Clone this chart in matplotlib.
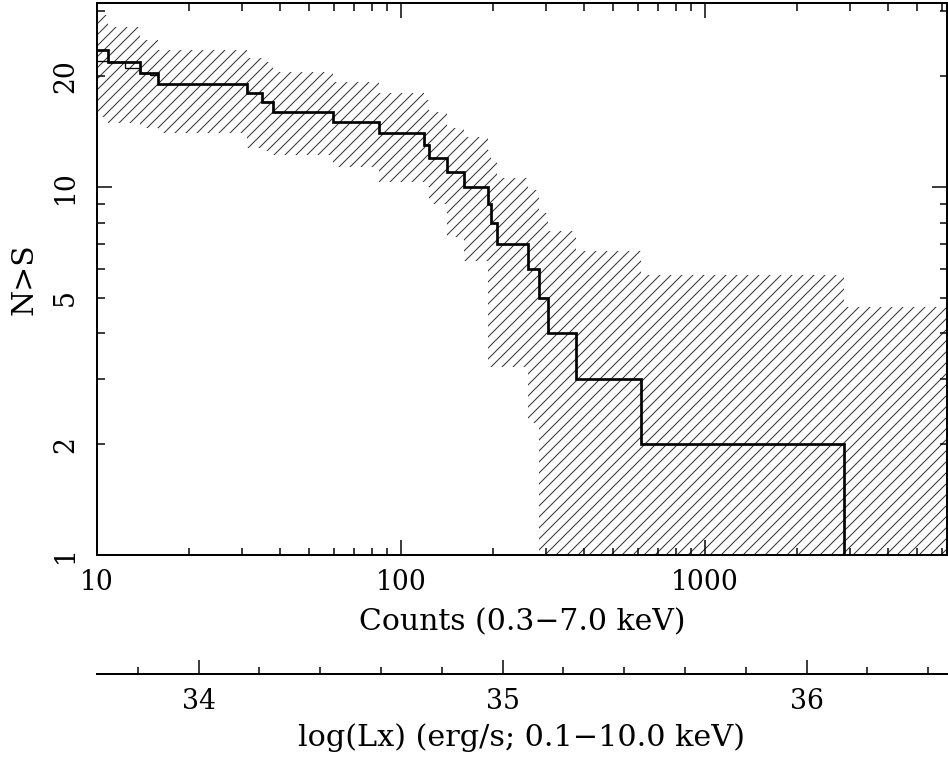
import numpy as np
import matplotlib
matplotlib.use("Agg")
import matplotlib.pyplot as plt
from matplotlib.ticker import FixedLocator, FuncFormatter, NullFormatter

# ---------------- data ----------------
# bin edges of the cumulative step curve, in counts (0.3-7.0 keV)
count_edges = [10, 10.87, 13.85, 15.88, 31.1, 34.8, 37.8, 59.6, 84.8, 119.3,
               123.6, 141.3, 161.2, 193.8, 197.8, 207.5, 262.3, 285.1, 305.2,
               375.5, 615.7, 2858, 6252]
# N(>S) in each bin
n_gt_s = [23.5, 21.8, 20.4, 19, 18, 17, 16, 15, 14, 13, 12, 11, 10, 9, 8, 7,
          6, 5, 4, 3, 2, 1]
# hatched confidence band (upper / lower) in each bin
band_upper = [29.3, 27.2, 25.1, 23.6, 22.4, 21.8, 20.5, 19.3, 18.0, 17.2, 16.0,
              14.5, 13.7, 12.6, 11.8, 10.6, 9.8, 8.5, 7.6, 6.7, 5.77, 4.73]
band_lower = [15.5, 14.9, 14.5, 14.0, 12.8, 12.5, 12.2, 11.3, 10.3, 10.0, 9.0,
              7.3, 6.3, 3.24, 3.24, 3.24, 2.28, 0.8, 0.8, 0.8, 0.8, 0.8]
# faint secondary step trace in the upper-left corner
alt_edges = [10, 10.87, 12.36, 13.85, 14.93, 15.88]
alt_n = [22.0, 21.8, 21.1, 20.4, 20.2]

# axis ticks / labels
y_major = [1, 10]
y_minor = [2, 3, 4, 5, 6, 7, 8, 9, 20, 30]
y_minor_labelled = [2, 5, 20]
x_tick_labels = [10, 100, 1000]
lx_offset = 32.666            # log(Lx) = log10(counts) + offset
lx_major = [34, 35, 36]
lx_minor_step = 0.2

# ---------------- figure ----------------
DPI = 132
W, H = 948, 761
plt.rcParams["font.family"] = ["DejaVu Serif"]
plt.rcParams["hatch.linewidth"] = 0.55
fig = plt.figure(figsize=(W / DPI, H / DPI), dpi=DPI)

def px(v):  # pixels -> points
    return v * 72.0 / DPI

L, R, T, B = 97, 947, 3, 555
ax = fig.add_axes([L / W, 1 - B / H, (R - L) / W, (B - T) / H])
ax.set_xscale("log")
ax.set_yscale("log")
xlim = (count_edges[0], count_edges[-1])
ax.set_xlim(*xlim)
ax.set_ylim(1, 10 ** 1.5)

edges = np.array(count_edges)
ax.fill_between(edges, np.append(band_lower, band_lower[-1]),
                np.append(band_upper, band_upper[-1]), step="post",
                facecolor="none", edgecolor="#333333", hatch="////",
                linewidth=0, zorder=1)
ax.step(edges, np.append(n_gt_s, n_gt_s[-1]), where="post",
        color="black", lw=px(2.7), zorder=3, solid_joinstyle="miter")
ax.step(alt_edges, np.append(alt_n, alt_n[-1]), where="post",
        color="black", lw=px(1.3), zorder=3)

for s in ax.spines.values():
    s.set_linewidth(px(2))

ax.yaxis.set_major_locator(FixedLocator(y_major))
ax.yaxis.set_minor_locator(FixedLocator(y_minor))
fmt = FuncFormatter(lambda v, p: f"{v:g}")
ax.yaxis.set_major_formatter(fmt)
ax.yaxis.set_minor_formatter(FuncFormatter(
    lambda v, p: f"{v:g}" if any(abs(v - m) < 1e-6 for m in y_minor_labelled) else ""))
ax.xaxis.set_major_locator(FixedLocator(x_tick_labels))
ax.xaxis.set_major_formatter(fmt)
ax.xaxis.set_minor_locator(FixedLocator(
    [m * d for d in (10, 100, 1000) for m in range(2, 10)]))
ax.xaxis.set_minor_formatter(NullFormatter())

ax.tick_params(which="both", direction="in", top=True, right=True,
               width=px(1.5), color="black")
ax.tick_params(which="major", length=px(15))
ax.tick_params(which="minor", length=px(7.5))
ax.tick_params(axis="x", which="both", labelsize=14.5, pad=px(14))
ax.tick_params(axis="y", which="both", labelsize=14.5, pad=px(18),
               labelrotation=90)
for lab in ax.get_yticklabels(which="both"):
    lab.set_va("center")

fig.text((L + R) / 2 / W, 1 - 622 / H, "Counts (0.3\u22127.0 keV)",
         ha="center", va="center", fontsize=16.3)
fig.text(25 / W, 1 - 279 / H, "N>S", rotation=90, ha="center",
         va="center", fontsize=16.3)

# secondary luminosity axis
y2 = 674
ax2 = fig.add_axes([L / W, 1 - y2 / H, (R - L) / W, 0.0001])
ax2.set_xlim(np.log10(xlim[0]) + lx_offset, np.log10(xlim[1]) + lx_offset)
ax2.set_ylim(0, 1)
for k in ("top", "left", "right"):
    ax2.spines[k].set_visible(False)
ax2.spines["bottom"].set_linewidth(px(2))
ax2.patch.set_visible(False)
ax2.set_yticks([])
ax2.xaxis.set_major_locator(FixedLocator(lx_major))
ax2.xaxis.set_major_formatter(FuncFormatter(lambda v, p: f"{v:g}"))
lo, hi = ax2.get_xlim()
ax2.xaxis.set_minor_locator(FixedLocator(
    np.arange(np.ceil(lo / lx_minor_step) * lx_minor_step, hi, lx_minor_step)))
ax2.tick_params(which="both", direction="in", width=px(1.5))
ax2.tick_params(which="major", length=px(14), labelsize=14.5, pad=px(14))
ax2.tick_params(which="minor", length=px(7))
fig.text((L + R) / 2 / W, 1 - 738 / H, "log(Lx) (erg/s; 0.1\u221210.0 keV)",
         ha="center", va="center", fontsize=16.5)

fig.savefig("out.png", dpi=DPI)
